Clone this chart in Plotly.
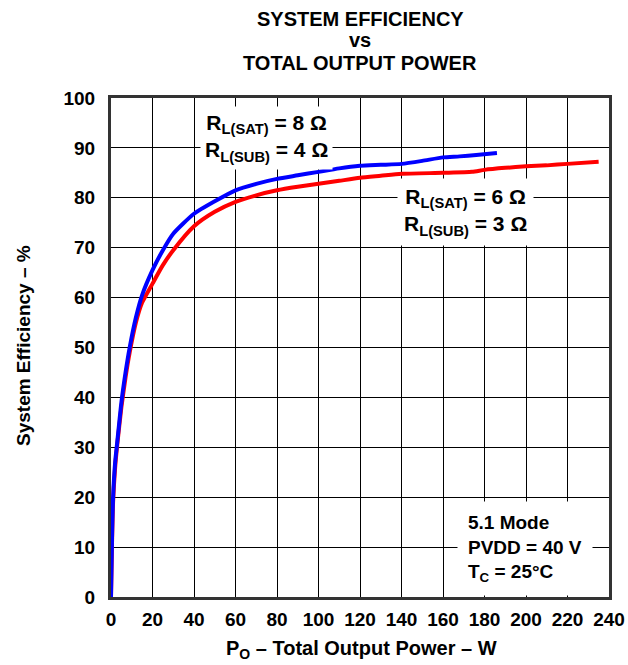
import plotly.graph_objects as go

# Blue: RL(SAT)=8 ohm, RL(SUB)=4 ohm
blue_x = [0, 0.5, 1, 2, 3, 5, 7, 9, 12, 15, 20, 25, 30, 40, 50, 60, 70, 80, 90, 100,
          110, 120, 130, 140, 150, 160, 168, 176, 186]
blue_y = [0, 12, 20, 27, 31, 39, 45, 50, 56, 60.5, 65.5, 69.5, 72.8, 76.8, 79.3, 81.5, 82.8, 83.8, 84.5, 85.2,
          85.9, 86.4, 86.6, 86.8, 87.4, 88.1, 88.3, 88.6, 89.0]

# Red: RL(SAT)=6 ohm, RL(SUB)=3 ohm
red_x = [0, 0.5, 1, 2, 3, 5, 7, 9, 12, 15, 20, 25, 30, 40, 50, 60, 70, 80, 90, 100,
         110, 120, 130, 140, 160, 174, 180, 190, 200, 210, 220, 235]
red_y = [0, 11, 19, 26, 30.5, 38, 44, 49, 55, 59, 62.8, 66.5, 69.5, 74.3, 77.2, 79.2, 80.5, 81.5, 82.2, 82.8,
         83.4, 84.0, 84.4, 84.8, 85.0, 85.2, 85.6, 86.0, 86.3, 86.5, 86.8, 87.2]

x_ticks = list(range(0, 241, 20))
y_ticks = list(range(0, 101, 10))

title_lines = ["SYSTEM EFFICIENCY", "vs", "TOTAL OUTPUT POWER"]
x_title = "P<sub>O</sub> – Total Output Power – W"
y_title = "System Efficiency – %"

FONT = "Liberation Sans, Arial, sans-serif"
BLACK = "#000000"

W, H = 628, 665
L, R, T, B = 111, 609, 97.5, 597.5   # plot area in pixels


def px(xp):
    return (xp - L) / (R - L)


def py(yp):
    return (B - yp) / (B - T)


fig = go.Figure()
fig.add_trace(go.Scatter(x=red_x, y=red_y, mode="lines",
                         line=dict(color="#ff0000", width=4, shape="spline", smoothing=0.6),
                         showlegend=False, hoverinfo="skip"))
fig.add_trace(go.Scatter(x=blue_x, y=blue_y, mode="lines",
                         line=dict(color="#0000ff", width=4, shape="spline", smoothing=0.6),
                         showlegend=False, hoverinfo="skip"))

axis_common = dict(showgrid=True, gridcolor=BLACK, gridwidth=1, zeroline=False,
                   showline=True, linecolor="#333333", linewidth=3, mirror=True, automargin=False,
                   ticks="outside", tickcolor="rgba(0,0,0,0)",
                   tickfont=dict(family=FONT, size=19, color=BLACK, weight="bold"))

fig.update_xaxes(range=[0, 240], tickvals=x_ticks, ticktext=[str(v) for v in x_ticks], ticklen=3,
                 **axis_common)
fig.update_yaxes(range=[0, 100], tickvals=y_ticks, ticktext=[str(v) for v in y_ticks], ticklen=9,
                 **axis_common)

# title lines
for txt, yc in zip(title_lines, [18.5, 39, 62]):
    fig.add_annotation(x=px(360), y=py(yc), xref="paper", yref="paper", showarrow=False,
                       xanchor="center", yanchor="middle", text=txt,
                       font=dict(family=FONT, size=20, color=BLACK, weight="bold"))

# axis titles
fig.add_annotation(x=px(361), y=py(650), xref="paper", yref="paper", showarrow=False,
                   xanchor="center", yanchor="middle", text=x_title,
                   font=dict(family=FONT, size=20, color=BLACK, weight="bold"))
fig.add_annotation(x=px(23), y=py(346), xref="paper", yref="paper", showarrow=False,
                   xanchor="center", yanchor="middle", text=y_title, textangle=-90,
                   font=dict(family=FONT, size=19, color=BLACK, weight="bold"))

ann_font = dict(family=FONT, size=21, color=BLACK, weight="bold")
fig.add_annotation(x=px(266), y=py(138), xref="paper", yref="paper", showarrow=False,
                   xanchor="center", yanchor="middle",
                   text="R<sub>L(SAT)</sub> = 8 Ω<br>R<sub>L(SUB)</sub> = 4 Ω",
                   font=ann_font, bgcolor="#ffffff", borderpad=4, align="center")
fig.add_annotation(x=px(465), y=py(212), xref="paper", yref="paper", showarrow=False,
                   xanchor="center", yanchor="middle",
                   text="R<sub>L(SAT)</sub> = 6 Ω<br>R<sub>L(SUB)</sub> = 3 Ω",
                   font=ann_font, bgcolor="#ffffff", borderpad=6, align="center")
fig.add_annotation(x=px(457), y=py(596), xref="paper", yref="paper", xanchor="left", yanchor="bottom",
                   showarrow=False,
                   text="5.1 Mode<br>PVDD = 40 V<br>T<sub>C</sub> = 25°C",
                   font=dict(family=FONT, size=19, color=BLACK, weight="bold"),
                   bgcolor="#ffffff", borderpad=10, align="left")

fig.update_layout(
    width=W, height=H,
    margin=dict(l=L, r=W - R, t=T, b=H - B, autoexpand=False),
    paper_bgcolor="#ffffff", plot_bgcolor="#ffffff",
    hovermode=False,
)

fig.write_html("out.html", config={"displayModeBar": False},
               post_script="document.body.style.margin='0px';")
